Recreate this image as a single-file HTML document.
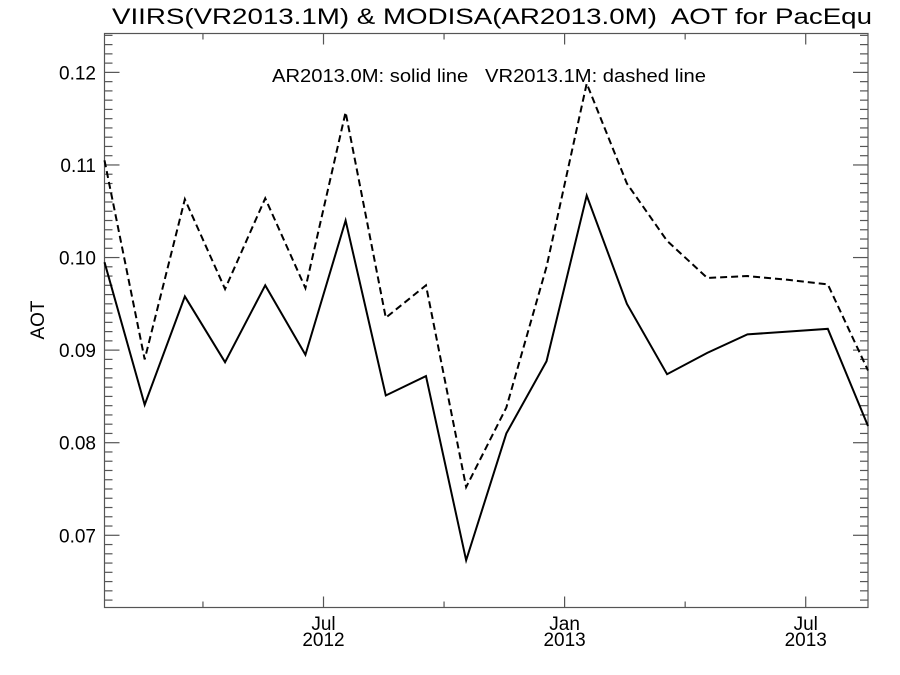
<!DOCTYPE html>
<html><head><meta charset="utf-8"><style>body{margin:0;background:#fff}svg{display:block}text{font-family:"Liberation Sans",sans-serif;fill:#000;white-space:pre}</style></head>
<body>
<svg id="chart" width="900" height="675" viewBox="0 0 900 675" xmlns="http://www.w3.org/2000/svg">
<text x="112" y="24" font-size="22" textLength="760" lengthAdjust="spacingAndGlyphs" xml:space="preserve">VIIRS(VR2013.1M) &amp; MODISA(AR2013.0M)  AOT for PacEqu</text>
<text x="272" y="82" font-size="18" textLength="434" lengthAdjust="spacingAndGlyphs" xml:space="preserve">AR2013.0M: solid line   VR2013.1M: dashed line</text>
<text transform="translate(44,320) rotate(-90)" font-size="19" text-anchor="middle">AOT</text>
<rect x="104.5" y="33.5" width="763.5" height="574" fill="none" stroke="#555" stroke-width="1.2"/>
<g id="axes"></g>
<g id="series"></g>
</svg>
<script>
const months = ["Jan12","Feb12","Mar12","Apr12","May12","Jun12","Jul12","Aug12","Sep12","Oct12","Nov12","Dec12","Jan13","Feb13","Mar13","Apr13","May13","Jun13","Jul13","Aug13"];
const modisa = [0.0995,0.0841,0.0958,0.0887,0.0970,0.0895,0.1040,0.0851,0.0872,0.0673,0.0810,0.0888,0.1067,0.0950,0.0874,0.0897,0.0917,0.0920,0.0923,0.0818];
const viirs = [0.1105,0.0890,0.1063,0.0966,0.1064,0.0967,0.1157,0.0935,0.0970,0.0752,0.0838,0.0990,0.1188,0.1080,0.1018,0.0978,0.0980,0.0976,0.0971,0.0878];
const yTicks = [0.07,0.08,0.09,0.10,0.11,0.12];
const yTickLabels = ["0.07","0.08","0.09","0.10","0.11","0.12"];
const xTickPos = [2.45,5.45,8.45,11.45,14.45,17.45];
const xTickLabels = [["",""],["Jul","2012"],["",""],["Jan","2013"],["",""],["Jul","2013"]];
const X0=104.5,X1=868,Y0=607.5,Y1=33.5,YMIN=0.0622,YMAX=0.1242;
const xs=i=>X0+(X1-X0)*i/(months.length-1);
const ys=v=>Y0-(Y0-Y1)*(v-YMIN)/(YMAX-YMIN);
const NS="http://www.w3.org/2000/svg";
const ax=document.getElementById('axes'),se=document.getElementById('series');
function line(p,x1,y1,x2,y2){const l=document.createElementNS(NS,'line');l.setAttribute('x1',x1);l.setAttribute('y1',y1);l.setAttribute('x2',x2);l.setAttribute('y2',y2);l.setAttribute('stroke','#555');l.setAttribute('stroke-width','1.2');p.appendChild(l);return l;}
for(let k=Math.ceil(YMIN*1000);k<=Math.floor(YMAX*1000);k++){
  const y=ys(k/1000);const major=k%10===0;const len=major?15:8;
  const l1=line(ax,X0,y,X0+len,y);
  
  
  const l2=line(ax,X1-len,y,X1,y);
  
  
}
yTicks.forEach((v,i)=>{const t=document.createElementNS(NS,'text');t.setAttribute('x',96);t.setAttribute('y',ys(v)+7);t.setAttribute('font-size','19');t.setAttribute('text-anchor','end');t.textContent=yTickLabels[i];


ax.appendChild(t);});
xTickPos.forEach((p,i)=>{const x=xs(p);const len=xTickLabels[i][0]?11:6;
const l1=line(ax,x,Y0,x,Y0-len);


const l2=line(ax,x,Y1,x,Y1+len);


if(xTickLabels[i][0]){const t=document.createElementNS(NS,'text');t.setAttribute('x',x);t.setAttribute('y',630);t.setAttribute('font-size','19');t.setAttribute('text-anchor','middle');
t.innerHTML='<tspan x="'+x+'">'+xTickLabels[i][0]+'</tspan><tspan x="'+x+'" dy="16">'+xTickLabels[i][1]+'</tspan>';


ax.appendChild(t);}});
function path(vals,dash,name){const p=document.createElementNS(NS,'polyline');p.setAttribute('points',vals.map((v,i)=>xs(i)+','+ys(v)).join(' '));p.setAttribute('fill','none');p.setAttribute('stroke','#000');p.setAttribute('stroke-width','2');if(dash)p.setAttribute('stroke-dasharray','7,4');


se.appendChild(p);}
path(modisa,false,'modisa-solid-line');
path(viirs,true,'viirs-dashed-line');
</script>
</body></html>
